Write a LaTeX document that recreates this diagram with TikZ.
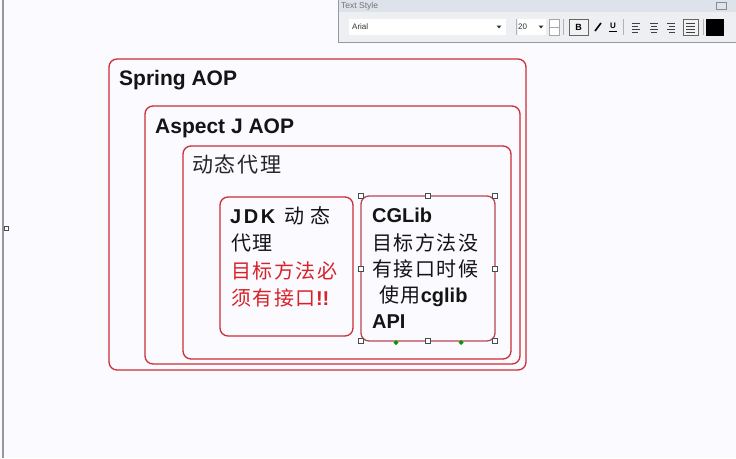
\documentclass[tikz,border=0pt]{standalone}
\usepackage{fontspec}
\setmainfont{Liberation Sans}
\newfontfamily\cjk[LetterSpace=8]{Noto Sans CJK SC}
\newfontfamily\weit[LetterSpace=13]{Liberation Sans}
\definecolor{rahmen}{RGB}{205,45,55}
\definecolor{rahmenb}{RGB}{185,70,85}
\definecolor{rottext}{RGB}{215,35,40}
\definecolor{schrift}{RGB}{20,20,20}
\definecolor{leiste}{RGB}{238,239,242}
\definecolor{titel}{RGB}{222,226,234}
\definecolor{grenze}{RGB}{150,152,158}
\begin{document}
\begin{tikzpicture}[x=1pt,y=-1pt,
    box/.style={rahmen,line width=1.3pt,rounded corners=8pt},
    griff/.style={fill=white,draw=black!70,line width=0.6pt},
    gross/.style={anchor=base west,inner sep=0pt,schrift,font=\fontsize{21}{21}\selectfont\bfseries},
    zeile/.style={anchor=base west,inner sep=0pt,schrift,font=\fontsize{20}{20}\selectfont}]
					\useasboundingbox (0,0) rectangle (736,458);
					\fill[white!98!blue] (0,0) rectangle (736,458);

					%linker Rand
					\fill[grenze] (1.5,0) rectangle (3.5,458);
					\draw[griff] (4,226) rectangle (8,230);

					%Rahmen
					\draw[box] (109,59) rectangle (526,370);
					\draw[box] (145,106) rectangle (520,364);
					\draw[box] (183,146) rectangle (511,359);
					\draw[box] (220,197) rectangle (353,336);
					\draw[rahmenb,line width=1.3pt,rounded corners=8pt] (361,196) rectangle (495,341);

					%Titel der Rahmen
					\node (spring) [gross] at (119,85) {Spring AOP};
					\node (aspectj) [gross] at (155,133) {Aspect J AOP};
					\node (dynamisch) [zeile,black!85,font=\fontsize{21}{21}\selectfont\cjk] at (192,172) {动态代理};

					%Text JDK
					\node (jdk) [zeile] at (230,223) {{\bfseries\weit JDK}\hspace{9pt}{\cjk 动\hspace{6pt}态}};
					\node (jdkb) [zeile] at (231,250) {\cjk 代理};
					\node (jdkc) [zeile,rottext] at (231,278) {\cjk 目标方法必};
					\node (jdkd) [zeile,rottext] at (231,305) {{\cjk 须有接口}\bfseries !!};

					%Text CGLib
					\node (cglib) [zeile,font=\fontsize{20}{20}\selectfont\bfseries] at (372,222) {CGLib};
					\node (cglibb) [zeile] at (372,250) {\cjk 目标方法没};
					\node (cglibc) [zeile] at (372,276) {\cjk 有接口时候};
					\node (cglibd) [zeile] at (379,302) {{\cjk 使用}\bfseries cglib};
					\node (cglibe) [zeile,font=\fontsize{20}{20}\selectfont\bfseries] at (372,328) {API};

					%Griffe der Auswahl
					\draw[griff] (358.5,193.5) rectangle ++(5,5);
					\draw[griff] (425.5,193.5) rectangle ++(5,5);
					\draw[griff] (492.5,193.5) rectangle ++(5,5);
					\draw[griff] (358.5,266.5) rectangle ++(5,5);
					\draw[griff] (492.5,266.5) rectangle ++(5,5);
					\draw[griff] (358.5,338.5) rectangle ++(5,5);
					\draw[griff] (425.5,338.5) rectangle ++(5,5);
					\draw[griff] (492.5,338.5) rectangle ++(5,5);
					\fill[green!60!black] (396,340) -- (398.5,342.5) -- (396,345) -- (393.5,342.5) -- cycle;
					\fill[green!60!black] (461,340) -- (463.5,342.5) -- (461,345) -- (458.5,342.5) -- cycle;

					%Werkzeugleiste
					\fill[leiste] (338,0) rectangle (736,42);
					\fill[titel] (338,0) rectangle (736,12);
					\draw[grenze,line width=1pt] (338,0) -- (338,42) -- (736,42);
					\node (stil) [anchor=west,inner sep=0pt,black!55,font=\fontsize{8.5}{8.5}\selectfont] at (341,6) {Text Style};
					\draw[black!45,line width=0.5pt] (716,2.5) rectangle (726,9.5);

					%Schriftart
					\fill[white] (349,19) rectangle (506,35);
					\node (arial) [anchor=west,inner sep=0pt,black!80,font=\fontsize{8}{8}\selectfont] at (352,27) {Arial};
					\fill[black!80] (496.5,25.5) -- (501.5,25.5) -- (499,28.5) -- cycle;
					\draw[black!30] (516,19) -- (516,35);
					\fill[white] (518,19) rectangle (546,35);
					\node (groesse) [anchor=west,inner sep=0pt,black!80,font=\fontsize{8}{8}\selectfont] at (518,27) {20};
					\fill[black!80] (538.5,25.5) -- (543.5,25.5) -- (541,28.5) -- cycle;
					\draw[black!35,fill=white] (549,19) rectangle (559,35);
					\draw[black!35] (549,27) -- (559,27);
					\draw[black!30] (563,19) -- (563,35);

					%Knoepfe
					\draw[black!60,fill=white!95!black,line width=0.6pt] (569,19) rectangle (588,35);
					\node (fett) [inner sep=0pt,black,font=\fontsize{9}{9}\selectfont\bfseries\rmfamily] at (578.5,27) {B};
					\draw[black,line width=1.6pt] (595,31) -- (601,23);
					\node (unter) [inner sep=0pt,black,font=\fontsize{8}{8}\selectfont\bfseries] at (613,26) {U};
					\draw[black,line width=0.6pt] (609,31) -- (617,31);
					\draw[black!30] (623,19) -- (623,35);

					%Ausrichtung
					\draw[black!75,line width=0.6pt] (632,23) -- (640,23) (632,26) -- (638,26) (632,29) -- (640,29) (632,32) -- (638,32);
					\draw[black!75,line width=0.6pt] (650,23) -- (658,23) (651,26) -- (657,26) (650,29) -- (658,29) (651,32) -- (657,32);
					\draw[black!75,line width=0.6pt] (667,23) -- (675,23) (669,26) -- (675,26) (667,29) -- (675,29) (669,32) -- (675,32);
					\draw[black!60,fill=white!95!black,line width=0.6pt] (683,19) rectangle (698,35);
					\draw[black!75,line width=0.6pt] (686,23) -- (695,23) (686,26) -- (695,26) (686,29) -- (695,29) (686,32) -- (695,32);
					\draw[black!30] (703,19) -- (703,35);
					\fill[black] (706,19) rectangle (724,36);
				\end{tikzpicture}
\end{document}
